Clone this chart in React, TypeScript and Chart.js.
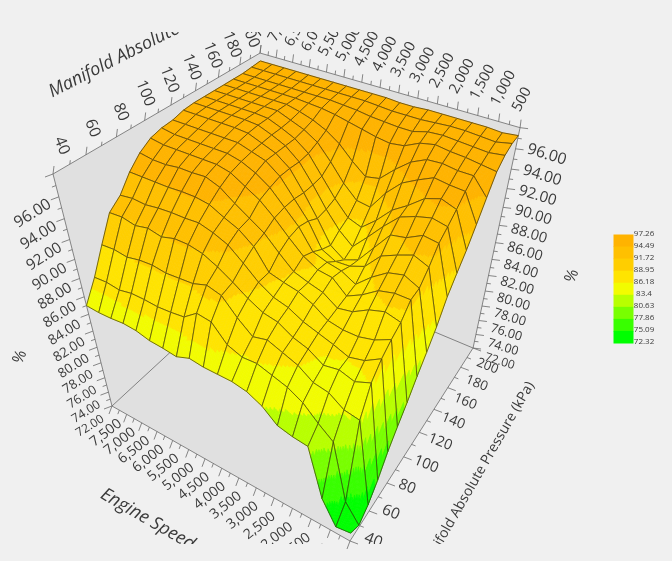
import { useEffect, useRef } from 'react';
import { Chart, registerables, Plugin } from 'chart.js';

Chart.register(...registerables);

const rpmBreaks = [500, 868, 1237, 1605, 1974, 2342, 2711, 3079, 3447, 3816, 4184, 4553, 4921, 5289, 5658, 6026, 6395, 6763, 7132, 7500];
const mapBreaks = [40, 48.9, 57.8, 66.7, 75.6, 84.4, 93.3, 102.2, 111.1, 120, 128.9, 137.8, 146.7, 155.6, 164.4, 173.3, 182.2, 191.1, 200];

// one row per manifold pressure, one value per engine speed
const veRows = [
  [73.2, 72.9, 75.8, 81.6, 81.8, 82.2, 83.6, 84.4, 84.7, 84.7, 84.7, 84.9, 84.3, 84.5, 84.6, 85, 85.1, 84.95, 84.9, 85],
  [72.32, 74.6, 81.5, 82.8, 84.3, 85.2, 85.7, 86.2, 86.1, 86.7, 88.4, 88.6, 87.5, 87.3, 87.2, 87.3, 87.3, 87, 87.2, 87.1],
  [73.4, 83.5, 83.8, 84.9, 85.2, 86.3, 86.9, 87.5, 87.1, 88.4, 90, 90.4, 89.9, 89.8, 89.7, 89.9, 89.8, 89.5, 89.7, 89.6],
  [75.1, 86.3, 85.6, 86.1, 85.8, 86.8, 87.3, 88.2, 88.5, 89.3, 90.3, 91.2, 91.9, 92.2, 92.2, 91.8, 92.1, 91.8, 92.1, 92],
  [77.3, 87.6, 86.6, 86.2, 86.8, 87.3, 87.8, 88.6, 89, 89.9, 91.2, 92.4, 93, 93.4, 93.3, 93.3, 93.2, 93, 93.1, 92.9],
  [79, 88.4, 87.6, 87.2, 87.2, 87.5, 88.5, 89.2, 89.5, 89.9, 91.9, 93, 93.6, 94.3, 94.5, 94.5, 94.4, 94.4, 94.4, 94.4],
  [80.6, 89, 89.4, 88.9, 88, 87.7, 88.7, 89.1, 89.6, 90.9, 92.3, 93.2, 94.1, 95.1, 95.6, 95.5, 95.5, 95.3, 95.3, 95.5],
  [82.4, 90.2, 90.2, 89.8, 88.7, 87.9, 89.2, 89.4, 90.2, 91.5, 92.9, 94.1, 94.9, 95.7, 96, 96, 96, 96, 96, 96.2],
  [84, 90.3, 91, 90.6, 89.5, 88.1, 88.9, 89.2, 89.7, 91.7, 93.1, 94.5, 95.4, 96, 96.3, 96.3, 96.3, 96.3, 96.3, 96.5],
  [85.7, 91.4, 92, 91.4, 90.7, 89, 88.4, 88.3, 89, 91.4, 93.1, 94.8, 95.8, 96.2, 96.6, 96.6, 96.6, 96.6, 96.6, 96.6],
  [87.9, 92.8, 93, 92.2, 91.9, 90, 88.1, 87.5, 88.5, 90.8, 92.9, 94.8, 95.8, 96.3, 96.8, 96.9, 96.9, 96.9, 96.9, 96.9],
  [89.4, 93.5, 93.8, 93.4, 92.8, 91.3, 89.6, 88, 89.2, 90.9, 92.9, 94.7, 95.8, 96.4, 96.9, 97, 97, 97, 97, 97],
  [90.8, 94.3, 94.8, 94.3, 93.1, 92.1, 90.5, 89.2, 89.7, 91.2, 93, 94.8, 95.8, 96.4, 96.9, 97, 97, 97, 97, 97],
  [92.5, 95.2, 95.3, 95.5, 94.8, 94, 92.5, 90.5, 90.7, 92, 93.7, 95.2, 96, 96.5, 97, 97, 97, 97, 97, 97],
  [94.3, 95.9, 95.9, 96.1, 96, 95.3, 94.1, 92.7, 92.4, 93.5, 94.8, 95.7, 96.3, 96.7, 97, 97, 97, 97, 97, 97],
  [96, 96.2, 96.4, 96.5, 96.7, 96.4, 95.7, 95.5, 95.7, 96, 96.3, 96.6, 96.8, 96.9, 97, 97, 97, 97, 97, 97],
  [96.8, 96.6, 96.7, 96.8, 96.9, 96.8, 96.4, 96.4, 96.5, 96.6, 96.8, 96.9, 97, 97, 97, 97, 97, 97, 97, 97],
  [97.2, 96.9, 97, 97.1, 97.1, 97, 96.9, 96.9, 96.9, 97, 97.1, 97.1, 97.1, 97.1, 97.1, 97.1, 97.1, 97.1, 97.1, 97.1],
  [97.26, 97.1, 97.2, 97.2, 97.2, 97.2, 97.2, 97.1, 97.1, 97.2, 97.2, 97.2, 97.2, 97.2, 97.2, 97.2, 97.2, 97.2, 97.2, 97.2],
];

const zTicks = [72, 74, 76, 78, 80, 82, 84, 86, 88, 90, 92, 94, 96];
const zMinorTicks = [73, 75, 77, 79, 81, 83, 85, 87, 89, 91, 93, 95, 97, 98];
const mapTicks = [40, 60, 80, 100, 120, 140, 160, 180, 200];
const mapMinorTicks = [50, 70, 90, 110, 130, 150, 170, 190];
const rpmTicks = [500, 1000, 1500, 2000, 2500, 3000, 3500, 4000, 4500, 5000, 5500, 6000, 6500, 7000, 7500];
const rpmMinorTicks = [750, 1250, 1750, 2250, 2750, 3250, 3750, 4250, 4750, 5250, 5750, 6250, 6750, 7250];

const bandLabels = ['97.26', '94.49', '91.72', '88.95', '86.18', '83.4', '80.63', '77.86', '75.09', '72.32'];
const bandColors = ['#ffb300', '#ffc000', '#ffce00', '#ffe400', '#f2fc00', '#b8ff00', '#78ff00', '#38ff00', '#00ff00'];
// lower edge of each colour on the surface, as seen on the picture
const surfaceLevels = [94.4, 92, 89.6, 86.2, 83.4, 80.6, 77.9, 75.1, 72];

const FONT = '"Open Sans"';
const TEXT = '#3a3a3a';

// camera for the 3d box: rpm, map and z are normalised, then pushed through this
function project(rpm: number, map: number, z: number) {
  const u = (rpm - 500) / 7000;
  const v = (map - 40) / 160;
  const w = (z - 72) / 26;
  const d = 1 + 0.1687 * u + 0.2887 * v - 0.2774 * w;
  return {
    x: (350 - 219.1 * u + 259.6 * v - 83.65 * w) / d,
    y: (541 - 66.5 * u - 92.5 * v - 319.4 * w) / d,
  };
}

function bandColor(z: number) {
  for (let k = 0; k < bandColors.length; k++) {
    if (z >= surfaceLevels[k]) return bandColors[k];
  }
  return bandColors[bandColors.length - 1];
}

const lerp = (a: number, b: number, t: number) => a + (b - a) * t;

const surfacePlugin: Plugin<'scatter'> = {
  id: 'surface3d',
  beforeDatasetsDraw(chart) {
    const { ctx, scales } = chart;
    const px = (p: { x: number; y: number }) => ({
      x: scales.x.getPixelForValue(p.x),
      y: scales.y.getPixelForValue(p.y),
    });
    const pt = (rpm: number, map: number, z: number) => px(project(rpm, map, z));
    const path = (pts: { x: number; y: number }[]) => {
      ctx.beginPath();
      pts.forEach((p, n) => (n ? ctx.lineTo(p.x, p.y) : ctx.moveTo(p.x, p.y)));
      ctx.closePath();
    };
    const line = (a: { x: number; y: number }, b: { x: number; y: number }) => {
      ctx.beginPath();
      ctx.moveTo(a.x, a.y);
      ctx.lineTo(b.x, b.y);
      ctx.stroke();
    };
    const label = (text: string, x: number, y: number, deg: number, size: number, align: CanvasTextAlign, font = FONT, style = '') => {
      ctx.save();
      ctx.translate(x, y);
      ctx.rotate((deg * Math.PI) / 180);
      ctx.font = `${style} ${size}px ${font}`;
      ctx.fillStyle = TEXT;
      ctx.textAlign = align;
      ctx.textBaseline = 'middle';
      ctx.fillText(text, 0, 0);
      ctx.restore();
    };

    ctx.save();

    // walls and floor
    const F00 = pt(500, 40, 72);
    const F10 = pt(7500, 40, 72);
    const F01 = pt(500, 200, 72);
    const F11 = pt(7500, 200, 72);
    const T10 = pt(7500, 40, 98);
    const T11 = pt(7500, 200, 98);
    const T01 = pt(500, 200, 98);
    path([F00, F10, T10, T11, T01, F01]);
    ctx.fillStyle = '#e0e0e0';
    ctx.fill();
    ctx.strokeStyle = '#6a6a6a';
    ctx.lineWidth = 0.8;
    line(F10, F11);
    line(F01, F11);
    line(F00, F10);
    line(F00, F01);
    line(F10, T10);
    line(F01, T01);
    line(T10, T11);
    line(T11, T01);

    // surface, far cells first so the nearer ones hide them
    const sub = 10;
    for (let i = rpmBreaks.length - 2; i >= 0; i--) {
      for (let j = mapBreaks.length - 2; j >= 0; j--) {
        const z00 = veRows[j][i];
        const z10 = veRows[j][i + 1];
        const z01 = veRows[j + 1][i];
        const z11 = veRows[j + 1][i + 1];
        const at = (s: number, t: number) => {
          const a = s / sub;
          const b = t / sub;
          return pt(
            lerp(rpmBreaks[i], rpmBreaks[i + 1], a),
            lerp(mapBreaks[j], mapBreaks[j + 1], b),
            lerp(lerp(z00, z10, a), lerp(z01, z11, a), b)
          );
        };
        for (let s = sub - 1; s >= 0; s--) {
          for (let t = sub - 1; t >= 0; t--) {
            const a = (s + 0.5) / sub;
            const b = (t + 0.5) / sub;
            const c = bandColor(lerp(lerp(z00, z10, a), lerp(z01, z11, a), b));
            path([at(s, t), at(s + 1, t), at(s + 1, t + 1), at(s, t + 1)]);
            ctx.fillStyle = c;
            ctx.strokeStyle = c;
            ctx.lineWidth = 0.7;
            ctx.fill();
            ctx.stroke();
          }
        }
        path([
          pt(rpmBreaks[i], mapBreaks[j], z00),
          pt(rpmBreaks[i + 1], mapBreaks[j], z10),
          pt(rpmBreaks[i + 1], mapBreaks[j + 1], z11),
          pt(rpmBreaks[i], mapBreaks[j + 1], z01),
        ]);
        ctx.strokeStyle = 'rgba(52,44,16,0.85)';
        ctx.lineWidth = 0.8;
        ctx.stroke();
      }
    }

    // tick marks
    ctx.strokeStyle = '#6a6a6a';
    ctx.lineWidth = 0.8;
    const tick = (p: { x: number; y: number }, dx: number, dy: number, k: number) =>
      line(p, { x: p.x + dx * k, y: p.y + dy * k });
    zTicks.forEach((z) => {
      tick(pt(7500, 40, z), -8, 3, 1);
      tick(pt(500, 200, z), 8, 1, 1);
    });
    zMinorTicks.forEach((z) => {
      tick(pt(7500, 40, z), -8, 3, z === 98 ? 1 : 0.5);
      tick(pt(500, 200, z), 8, 1, z === 98 ? 1 : 0.5);
    });
    mapTicks.forEach((m) => {
      tick(pt(7500, m, 98), 1, -8, 1);
      tick(pt(500, m, 72), 8, 3, 1);
    });
    mapMinorTicks.forEach((m) => {
      tick(pt(7500, m, 98), 1, -8, 0.5);
      tick(pt(500, m, 72), 8, 3, 0.5);
    });
    rpmTicks.forEach((r) => {
      tick(pt(r, 200, 98), 1, -8, 1);
      tick(pt(r, 40, 72), -3, 8, 1);
    });
    rpmMinorTicks.forEach((r) => {
      tick(pt(r, 200, 98), 1, -8, 0.5);
      tick(pt(r, 40, 72), -3, 8, 0.5);
    });

    // text is cut off by the plot window at top and bottom
    ctx.save();
    ctx.beginPath();
    ctx.rect(0, 32, 672, 512);
    ctx.clip();

    zTicks.forEach((z) => {
      const t = (z - 72) / 24;
      const a = pt(7500, 40, z);
      label(z.toFixed(2), a.x - 9, a.y + lerp(12, 6, t), -32, lerp(12, 15.8, t), 'right');
      const b = pt(500, 200, z);
      label(z.toFixed(2), b.x + 12, b.y + lerp(9, 0, t), 17, lerp(12, 15.8, t), 'left');
    });
    mapTicks.forEach((m) => {
      const t = (m - 40) / 160;
      const a = pt(7500, m, 98);
      label(String(m), a.x + lerp(12, -5, t), a.y + lerp(-20, -6, t), 68, 15.7, 'right');
      const b = pt(500, m, 72);
      label(String(m), b.x + lerp(15, 4, t), b.y + lerp(-4, 14, t), 22, lerp(15.7, 13, t), 'left');
    });
    rpmTicks.forEach((r) => {
      const t = (r - 500) / 7000;
      const text = r.toLocaleString('en-US');
      const a = pt(r, 200, 98);
      label(text, a.x - 4, a.y - 17, -62, 14.6, 'left');
      const b = pt(r, 40, 72);
      label(text, b.x + lerp(-4, 8, t), b.y + lerp(17, 16, t), -38, 14, 'right');
    });

    const titleFont = '"Open Sans"';
    label('Manifold Absolute Pressure (kPa)', 50, 93, -27, 18, 'left', titleFont, 'italic');
    label('Engine Speed (rpm)', 102, 493, 30, 18, 'left', titleFont, 'italic');
    label('Manifold Absolute Pressure (kPa)', 531, 383, -60, 14, 'right', titleFont);
    label('%', 20, 357, -68, 16, 'center');
    label('%', 572, 276, -68, 16, 'center');
    ctx.restore();

    // colour key
    bandColors.forEach((c, k) => {
      const y0 = lerp(234.5, 343, k / bandColors.length);
      const y1 = lerp(234.5, 343, (k + 1) / bandColors.length);
      ctx.fillStyle = c;
      ctx.fillRect(613.5, y0, 20, y1 - y0 + 0.5);
    });
    bandLabels.forEach((text, k) => {
      label(text, 644, lerp(234, 342, k / (bandLabels.length - 1)), 0, 8, 'center');
    });

    ctx.restore();
  },
};

export default function App() {
  const canvasRef = useRef<HTMLCanvasElement>(null);

  useEffect(() => {
    document.body.style.margin = '0';
    document.body.style.background = '#f0f0f0';
    if (!canvasRef.current) return;

    const nodes = veRows.flatMap((row, j) =>
      row.map((z, i) => project(rpmBreaks[i], mapBreaks[j], z))
    );

    const chart = new Chart(canvasRef.current, {
      type: 'scatter',
      data: { datasets: [{ data: nodes, pointRadius: 0 }] },
      options: {
        animation: false,
        responsive: false,
        layout: { padding: 0 },
        plugins: { legend: { display: false }, tooltip: { enabled: false } },
        scales: {
          x: { type: 'linear', min: 0, max: 672, display: false },
          y: { type: 'linear', min: 0, max: 561, reverse: true, display: false },
        },
      },
      plugins: [surfacePlugin],
    });

    return () => chart.destroy();
  }, []);

  return <canvas ref={canvasRef} width={672} height={561} style={{ display: 'block' }} />;
}
